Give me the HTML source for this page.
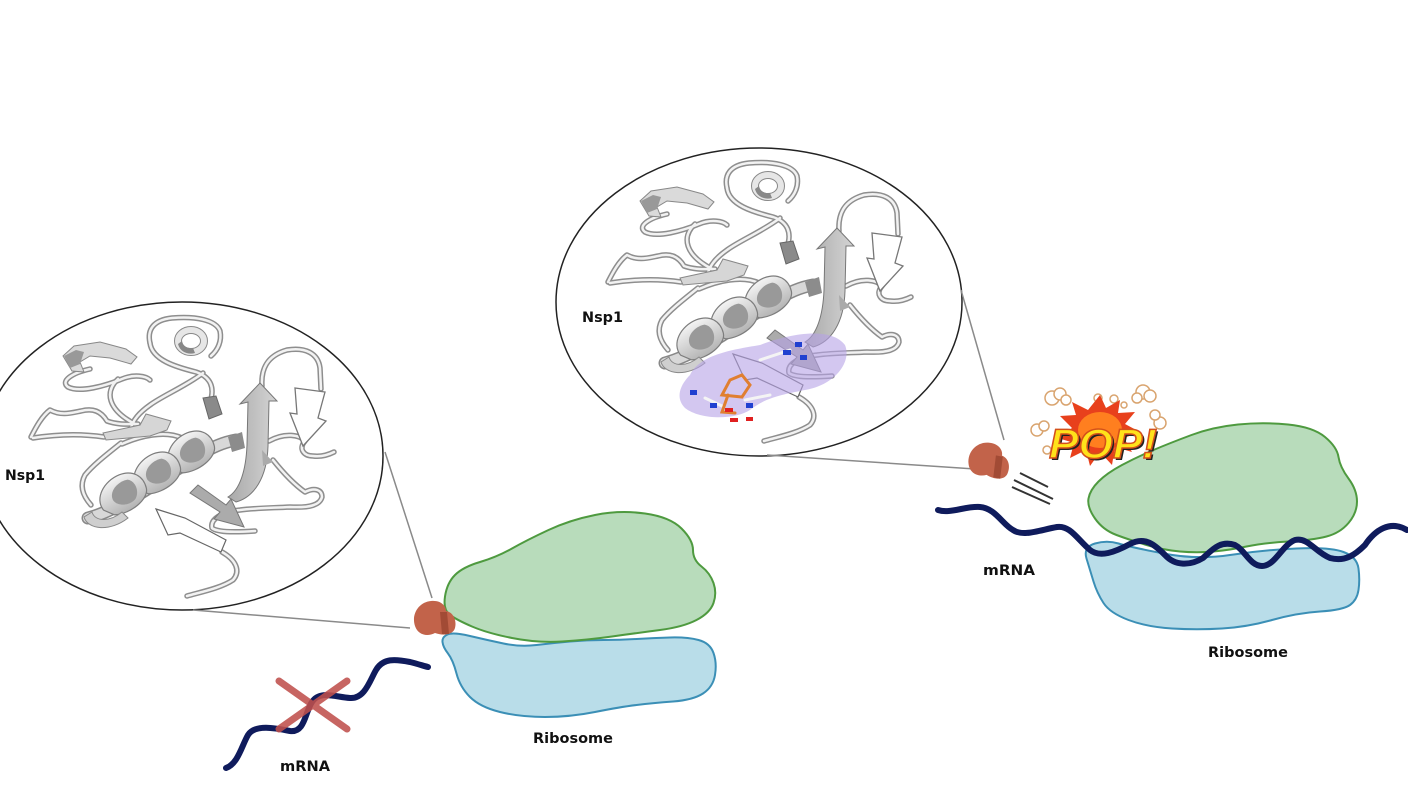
<!DOCTYPE html>
<html><head><meta charset="utf-8"><style>
html,body{margin:0;padding:0;background:#fff;}
svg{display:block;}
text{font-family:"DejaVu Sans","Liberation Sans",sans-serif;font-weight:bold;fill:#111;}
</style></head><body>
<svg width="1408" height="792" viewBox="0 0 1408 792" xmlns="http://www.w3.org/2000/svg">
<defs>
<linearGradient id="hg" x1="0" y1="0" x2="0" y2="1"><stop offset="0" stop-color="#f4f4f4"/><stop offset="1" stop-color="#b3b3b3"/></linearGradient>
<linearGradient id="sg" x1="0" y1="0" x2="1" y2="0"><stop offset="0" stop-color="#a9a9a9"/><stop offset="1" stop-color="#d4d4d4"/></linearGradient>
<g id="loops">
<path d="M90,369 C72,373 60,381 68,387 C80,393 105,386 122,379 C134,374 146,376 150,380"/>
<path d="M118,379 C104,392 108,410 135,424"/>
<path d="M150,343 C147,330 153,320 172,318 C196,316 216,320 220,331 C222,341 218,350 211,356"/>
<path d="M150,343 C152,360 176,367 196,372 C211,377 215,388 210,402"/>
<path d="M203,373 C186,386 162,396 150,405 C140,412 133,420 131,428"/>
<path d="M31,437 C36,427 42,416 50,410 C61,416 71,413 81,411 C93,408 101,411 107,421 C118,425 128,424 138,424"/>
<path d="M33,438 C52,435 78,433 104,437"/>
<path d="M262,386 C261,370 266,356 287,350 C305,347 318,353 320,368 L321,389"/>
<path d="M269,441 C285,432 300,435 305,441 C298,449 304,456 313,456 C321,457 328,455 334,452"/>
<path d="M121,443 C106,455 93,465 85,475 C79,486 83,496 91,505"/>
<path d="M273,460 C285,475 295,485 305,492 C315,487 322,490 322,497 C320,505 310,508 290,507 C270,508 255,508 240,510 C220,512 210,520 212,528 C218,533 240,532 255,531"/>
<path d="M222,552 C236,560 241,571 233,580 C221,588 201,592 187,596"/>
<path d="M122,444 C140,436 165,430 182,438"/>
</g>
<g id="turn">
<path d="M-20,4 C-22,-8 -8,-17 6,-15 C18,-13 23,-4 20,6 C17,15 -2,18 -14,12 Z" fill="url(#hg)" stroke="#7d7d7d" stroke-width="1"/>
<path d="M-9,1 C-9,-7 2,-11 10,-8 C15,-4 14,5 8,9 C2,12 -8,8 -9,1 Z" fill="#999"/>
</g>
<g id="prot">
<use href="#loops" fill="none" stroke="#8e8e8e" stroke-width="5.5" stroke-linecap="round" stroke-linejoin="round"/>
<use href="#loops" fill="none" stroke="#f2f2f2" stroke-width="2.5" stroke-linecap="round" stroke-linejoin="round"/>
<polygon points="63,356 74,346 100,342 126,349 137,357 131,364 110,358 90,356 80,362 84,372 72,371" fill="#dadada" stroke="#888" stroke-width="1"/>
<polygon points="64,356 76,350 84,352 80,364 70,368" fill="#999"/>
<ellipse cx="191" cy="341" rx="13" ry="11" fill="none" stroke="#888" stroke-width="8"/>
<ellipse cx="191" cy="341" rx="13" ry="11" fill="none" stroke="#e6e6e6" stroke-width="6"/>
<path d="M178,344 C180,352 188,355 195,353 L193,348 C187,349 183,346 182,341 Z" fill="#888"/>
<polygon points="103,433 140,425 146,414 171,421 167,430 150,436 106,440" fill="#d6d6d6" stroke="#888" stroke-width="1"/>
<polygon points="203,398 216,396 222,414 209,419" fill="#8a8a8a" stroke="#666" stroke-width="1"/>
<polygon points="295,388 325,392 318,418 326,421 303,446 290,413 297,414" fill="#fff" stroke="#777" stroke-width="1.3"/>
<polygon points="156,509 185,518 226,540 221,552 180,533 168,535" fill="#fff" stroke="#666" stroke-width="1.2"/>
<path d="M88,518 C100,515 115,508 125,502 C140,494 150,488 160,480 C175,470 190,462 200,455 C212,447 225,442 236,440" fill="none" stroke="#888" stroke-width="13" stroke-linecap="round"/>
<path d="M88,518 C100,515 115,508 125,502 C140,494 150,488 160,480 C175,470 190,462 200,455 C212,447 225,442 236,440" fill="none" stroke="#d8d8d8" stroke-width="10" stroke-linecap="round"/>
<polygon points="228,437 242,432 245,448 232,452" fill="#8c8c8c"/>
<use href="#turn" transform="translate(190,452) rotate(-30) scale(1.2)"/>
<use href="#turn" transform="translate(156,473) rotate(-30) scale(1.2)"/>
<use href="#turn" transform="translate(122,494) rotate(-30) scale(1.2)"/>
<path d="M84,517 C88,530 110,532 128,518 L122,512 C110,522 95,522 92,512 Z" fill="#cfcfcf" stroke="#888" stroke-width="1"/>
<path d="M228,497 C240,490 246,470 247,445 L248,402 L240,404 L260,383 L277,401 L269,401 L268,446 C267,478 254,497 236,502 Z" fill="url(#sg)" stroke="#777" stroke-width="1"/>
<polygon points="262,450 273,462 263,466" fill="#aaa"/>
<polygon points="190,493 198,485 226,505 231,499 244,527 214,519 220,512" fill="#ababab" stroke="#777" stroke-width="1"/>
</g>
<g id="nsp">
<path d="M2,26 C-2,14 6,2 18,1 C28,0 33,6 33,11 C40,12 44,20 42,28 C40,35 30,36 22,33 C14,37 5,35 2,26 Z" fill="#c2634a"/>
<path d="M27,12 L34,12 L36,34 L29,34 Z" fill="#9a4530" opacity="0.8"/>
</g>
</defs>

<rect width="1408" height="792" fill="#fff"/>

<!-- LEFT -->
<ellipse cx="182" cy="456" rx="201" ry="154" fill="#fff" stroke="#222" stroke-width="1.5"/>
<line x1="385" y1="452" x2="432" y2="598" stroke="#8a8a8a" stroke-width="1.5"/>
<line x1="193" y1="610" x2="410" y2="628" stroke="#8a8a8a" stroke-width="1.5"/>
<use href="#prot"/>
<text x="5" y="480" font-size="14" textLength="40" lengthAdjust="spacingAndGlyphs">Nsp1</text>

<path d="M447.5,634.5 Q453,632 470,636 Q487,640 503.5,643.5 Q520,647 536.5,645 Q553,643 570,641.5 Q587,640 603.5,640 Q620,640 636.5,639 Q653,638 670,637.5 Q687,637 698.5,640 Q710,643 713.5,653 Q717,663 715,675 Q713,687 703,693.5 Q693,700 673,701.5 Q653,703 636.5,705 Q620,707 595,712 Q570,717 545,717 Q520,717 500,712 Q480,707 470,697 Q460,687 456.5,673.5 Q453,660 448,653.5 Q443,647 442.5,642 Q442,637 447.5,634.5 Z" fill="#b9dde9" stroke="#3b8fb6" stroke-width="2"/>
<path d="M445,596.5 Q447,583 455,575 Q463,567 480,562 Q497,557 512,548.5 Q527,540 548.5,530 Q570,520 595,515 Q620,510 645,513.5 Q670,517 681.5,528.5 Q693,540 693,550 Q693,560 701.5,566.5 Q710,573 713.5,583 Q717,593 713.5,603 Q710,613 696.5,620 Q683,627 660,630 Q637,633 612,636.5 Q587,640 562,641.5 Q537,643 512,638 Q487,633 472,626.5 Q457,620 450,615 Q443,610 445,596.5 Z" fill="#b8dcbb" stroke="#4e9a3f" stroke-width="2"/>
<use href="#nsp" transform="translate(413,600)"/>

<path d="M226,768 C238,764 242,745 248,735 C255,724 275,728 290,731 C305,733 305,712 312,702 C320,690 335,697 350,698 C365,699 370,680 376,670 C383,658 395,659 410,662 C418,664 424,666 428,667" fill="none" stroke="#0f1b5c" stroke-width="6" stroke-linecap="round"/>
<g stroke="#c0504d" stroke-width="7" stroke-linecap="round" opacity="0.88">
<line x1="279" y1="681" x2="347" y2="729"/>
<line x1="347" y1="681" x2="279" y2="729"/>
</g>
<text x="280" y="771" font-size="14" textLength="50" lengthAdjust="spacingAndGlyphs">mRNA</text>
<text x="533" y="743" font-size="14" textLength="80" lengthAdjust="spacingAndGlyphs">Ribosome</text>

<!-- RIGHT -->
<ellipse cx="759" cy="302" rx="203" ry="154" fill="#fff" stroke="#222" stroke-width="1.5"/>
<line x1="961" y1="290" x2="1004" y2="440" stroke="#8a8a8a" stroke-width="1.5"/>
<line x1="767" y1="455" x2="975" y2="469" stroke="#8a8a8a" stroke-width="1.5"/>
<use href="#prot" transform="translate(577,-155)"/>
<path d="M690,375 C700,355 730,350 760,345 C785,335 830,325 845,345 C852,362 835,385 805,390 C780,395 765,398 750,410 C735,420 700,420 685,408 C675,398 680,385 690,375 Z" fill="#b6a2e6" opacity="0.6"/>
<g fill="none" stroke-linecap="round">
<path d="M760,360 L790,350 M705,398 L722,406 M745,400 L770,395" stroke="#f4f4f4" stroke-width="3"/>
<path d="M722,395 L730,380 L742,375 L750,385 L742,397 Z M728,395 L722,412 L735,413" stroke="#e07f30" stroke-width="3"/>
</g>
<g fill="#2040d0">
<rect x="690" y="390" width="7" height="5"/><rect x="710" y="403" width="7" height="5"/><rect x="746" y="403" width="7" height="5"/>
<rect x="783" y="350" width="8" height="5"/><rect x="795" y="342" width="7" height="5"/><rect x="800" y="355" width="7" height="5"/>
</g>
<g fill="#e02020">
<rect x="725" y="408" width="8" height="4"/><rect x="730" y="418" width="8" height="4"/><rect x="746" y="417" width="7" height="4"/>
</g>
<text x="582" y="322" font-size="14" textLength="41" lengthAdjust="spacingAndGlyphs">Nsp1</text>

<path d="M1095,543.5 Q1107,540 1118.5,543.5 Q1130,547 1163.5,553.5 Q1197,560 1230,555 Q1263,550 1296.5,548.5 Q1330,547 1343.5,552 Q1357,557 1358.5,568.5 Q1360,580 1358.5,590 Q1357,600 1350,605 Q1343,610 1320,611.5 Q1297,613 1272,620 Q1247,627 1222,628.5 Q1197,630 1172,628.5 Q1147,627 1128.5,620 Q1110,613 1103.5,603 Q1097,593 1093.5,581.5 Q1090,570 1086.5,558.5 Q1083,547 1095,543.5 Z" fill="#b9dde9" stroke="#3b8fb6" stroke-width="2"/>
<path d="M1088.5,498.5 Q1090,490 1098.5,481.5 Q1107,473 1122,465 Q1137,457 1153.5,450 Q1170,443 1191.5,435 Q1213,427 1238,424.5 Q1263,422 1288,424.5 Q1313,427 1325,437 Q1337,447 1338.5,457 Q1340,467 1348.5,478.5 Q1357,490 1357,501.5 Q1357,513 1348.5,523 Q1340,533 1326.5,536.5 Q1313,540 1288,541.5 Q1263,543 1246.5,546.5 Q1230,550 1213.5,551.5 Q1197,553 1180,551.5 Q1163,550 1146.5,545 Q1130,540 1116.5,535 Q1103,530 1095,518.5 Q1087,507 1088.5,498.5 Z" fill="#b8dcbb" stroke="#4e9a3f" stroke-width="2"/>
<path d="M938,510 C950,514 965,506 980,507 C995,508 1003,525 1013,530 C1023,537 1040,530 1057,527 C1070,525 1078,540 1090,550 C1100,558 1115,552 1130,544 C1145,536 1155,545 1165,555 C1175,566 1190,566 1203,558 C1212,550 1220,540 1235,545 C1245,550 1250,566 1262,566 C1275,566 1282,545 1295,540 C1308,537 1315,552 1330,558 C1345,562 1355,555 1365,545 C1375,530 1390,520 1407,530" fill="none" stroke="#0f1b5c" stroke-width="6" stroke-linecap="round"/>
<use href="#nsp" transform="translate(972,438) rotate(12)"/>
<g stroke="#333" stroke-width="2">
<line x1="1020" y1="473" x2="1048" y2="487"/>
<line x1="1014" y1="480" x2="1053" y2="499"/>
<line x1="1012" y1="487" x2="1050" y2="504"/>
</g>
<text x="983" y="575" font-size="14" textLength="52" lengthAdjust="spacingAndGlyphs">mRNA</text>
<text x="1208" y="657" font-size="14" textLength="80" lengthAdjust="spacingAndGlyphs">Ribosome</text>

<!-- POP! -->
<g>
<g fill="#fff" stroke="#d9a46f" stroke-width="1.5">
<circle cx="1052" cy="398" r="7"/><circle cx="1060" cy="394" r="6"/><circle cx="1066" cy="400" r="5"/>
<circle cx="1143" cy="392" r="7"/><circle cx="1150" cy="396" r="6"/><circle cx="1137" cy="398" r="5"/>
<circle cx="1037" cy="430" r="6"/><circle cx="1044" cy="426" r="5"/>
<circle cx="1160" cy="423" r="6"/><circle cx="1155" cy="415" r="5"/>
<circle cx="1047" cy="450" r="4"/><circle cx="1098" cy="398" r="4"/><circle cx="1114" cy="399" r="4"/><circle cx="1124" cy="405" r="3"/>
</g>
<polygon points="1100,395 1106,408 1120,400 1118,413 1135,412 1125,424 1140,432 1124,438 1132,452 1115,447 1112,465 1100,452 1090,466 1086,450 1070,458 1074,443 1058,438 1072,428 1060,416 1076,415 1072,402 1088,410" fill="#e8401c"/>
<ellipse cx="1100" cy="430" rx="22" ry="18" fill="#ff7f1f"/>
<text x="1049" y="458" font-size="42" font-style="italic" textLength="108" lengthAdjust="spacingAndGlyphs" style="font-family:'Liberation Sans',sans-serif;font-weight:bold;fill:#222" transform="translate(2,2)">POP!</text>
<text x="1049" y="458" font-size="42" font-style="italic" textLength="108" lengthAdjust="spacingAndGlyphs" style="font-family:'Liberation Sans',sans-serif;font-weight:bold;fill:#ffe21a;stroke:#d4501a;stroke-width:1.5">POP!</text>
</g>
</svg>
</body></html>
